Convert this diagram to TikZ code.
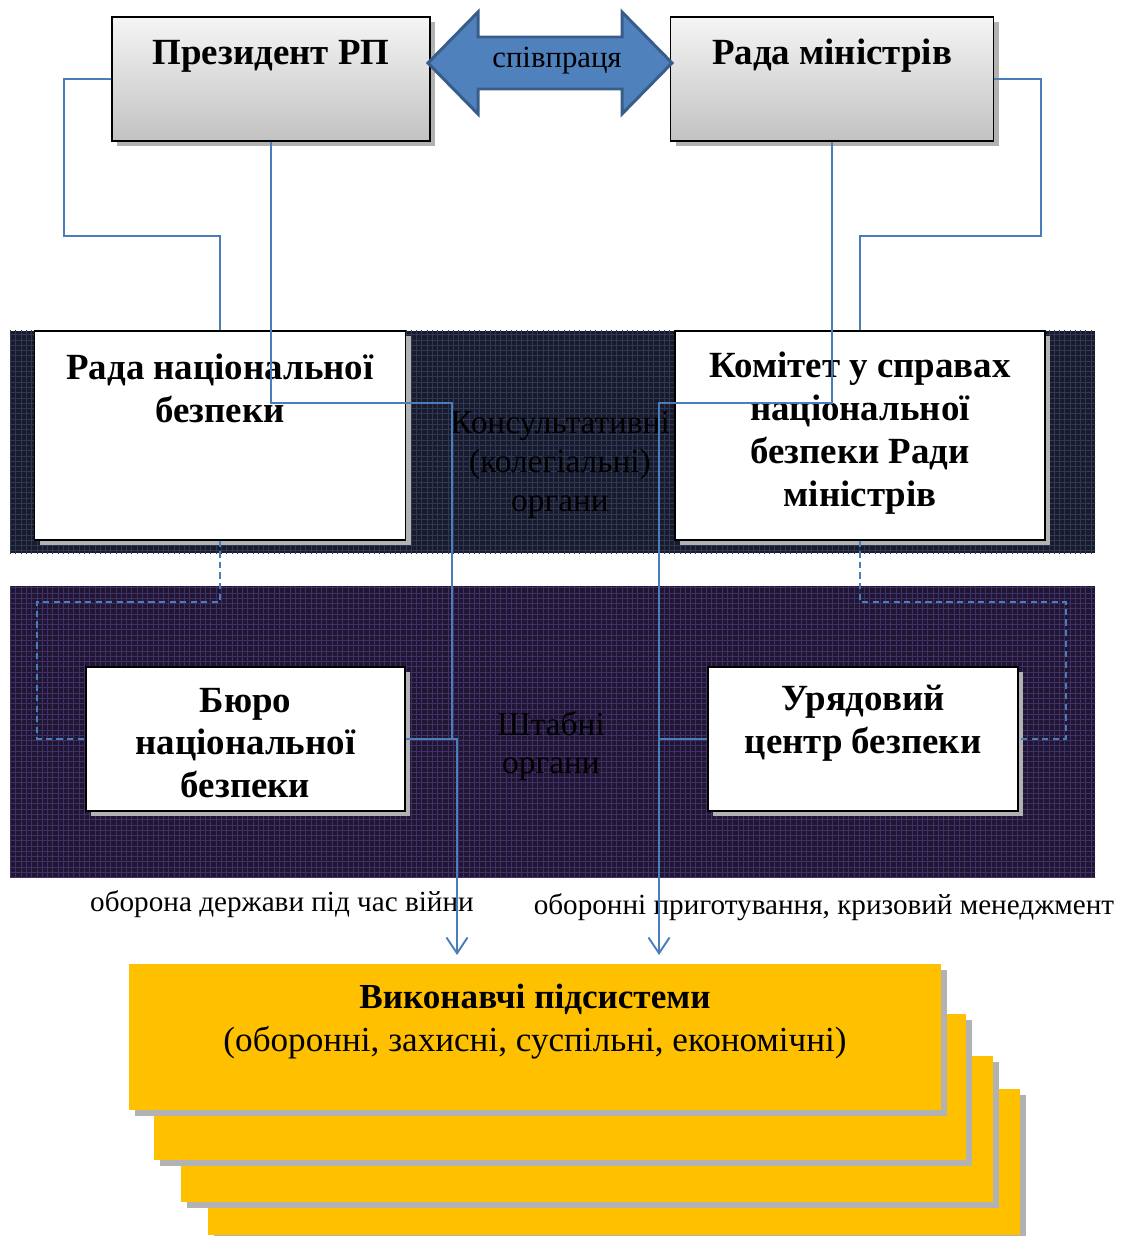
\documentclass[tikz,border=0pt]{standalone}
\usepackage{fontspec}
\setmainfont{Liberation Serif}
\usetikzlibrary{arrows.meta,shadows,patterns}
\definecolor{linkblue}{RGB}{74,126,187}
\definecolor{arrowfill}{RGB}{79,129,189}
\definecolor{arrowedge}{RGB}{56,93,138}
\definecolor{bandone}{RGB}{24,27,44}
\definecolor{bandonegrid}{RGB}{48,56,86}
\definecolor{bandtwo}{RGB}{30,22,50}
\definecolor{bandtwogrid}{RGB}{64,48,102}
\definecolor{subsys}{RGB}{255,192,0}
\tikzset{
  box/.style={draw=black,line width=1pt,fill=white,inner sep=0pt,
    general shadow={fill=gray!60,shadow xshift=3pt,shadow yshift=-3pt}},
  headbox/.style={box,top color=gray!8,bottom color=gray!48},
  subbox/.style={fill=subsys,inner sep=0pt,minimum width=16.24cm,minimum height=2.92cm,
    general shadow={fill=gray!60,shadow xshift=3.4pt,shadow yshift=-3.4pt}},
  title/.style={font=\fontsize{21}{24.4}\selectfont\bfseries,align=center,inner sep=0pt},
  bandtext/.style={font=\fontsize{19}{22}\selectfont,align=center,text=black,inner sep=0pt},
  flowtext/.style={font=\fontsize{16.6}{19}\selectfont,inner sep=0pt},
  link/.style={draw=linkblue,line width=1.1pt},
  tolink/.style={link,-{Straight Barb[length=9pt,width=12pt]}},
  weaklink/.style={link,dash pattern=on 3.5pt off 2.5pt}
}
\begin{document}
\begin{tikzpicture}[x=0.02cm,y=-0.02cm]
\useasboundingbox (0,0) rectangle (1121,1236);
% bands
\fill[bandone] (10,331) rectangle (1095,553);
\fill[pattern=grid,pattern color=bandonegrid] (10,331) rectangle (1095,553);
\fill[bandtwo] (10,586) rectangle (1095,877);
\fill[pattern=grid,pattern color=bandtwogrid] (10,586) rectangle (1095,877);
\node[bandtext] (consult) at (560,465) {Консультативні\\(колегіальні)\\органи};
\node[bandtext] (staff) at (551,746) {Штабні\\органи};
% top level
\node[headbox,minimum width=6.36cm,minimum height=2.48cm] (pres) at (271,79) {};
\node[headbox,minimum width=6.46cm,minimum height=2.48cm] (rm) at (832,79) {};
\node[title] (presT) at (271,56) {Президент РП};
\node[title] (rmT) at (832,56) {Рада міністрів};
\draw[fill=arrowfill,draw=arrowedge,line width=1.7pt,line join=miter]
  (428,63) -- (478,12) -- (478,37) -- (622,37) -- (622,12) -- (672,63)
  -- (622,114) -- (622,89) -- (478,89) -- (478,114) -- cycle;
\node[font=\fontsize{17.5}{20}\selectfont,inner sep=0pt] (coop) at (557,61) {співпраця};
% councils
\node[box,minimum width=7.42cm,minimum height=4.18cm] (rnb) at (220,435.5) {};
\node[box,minimum width=7.4cm,minimum height=4.18cm] (kom) at (860,435.5) {};
\node[title] (rnbT) at (220,388) {Рада національної\\безпеки};
\node[title] (komT) at (860,433) {Комітет у справах\\національної\\безпеки Ради\\міністрів};
% staff
\node[box,minimum width=6.38cm,minimum height=2.88cm] (biuro) at (245.5,739) {};
\node[box,minimum width=6.2cm,minimum height=2.88cm] (ur) at (863,739) {};
\node[title] (biuroT) at (245.5,743) {Бюро\\національної\\безпеки};
\node[title] (urT) at (863,723) {Урядовий\\центр безпеки};
% executive subsystems
\node[subbox] (sub4) at (614,1162) {};
\node[subbox] (sub3) at (587,1129) {};
\node[subbox] (sub2) at (560,1087) {};
\node[subbox] (sub1) at (535,1037) {};
\node[font=\fontsize{20}{24.4}\selectfont,align=center,inner sep=0pt] (sub1T) at (535,1022)
  {\textbf{Виконавчі підсистеми}\\(оборонні, захисні, суспільні, економічні)};
% labels
\node[flowtext] (warT) at (282,904) {оборона держави під час війни};
\node[flowtext] (prepT) at (824,907) {оборонні приготування, кризовий менеджмент};
\coordinate (tipL) at (457,955);
\coordinate (tipR) at (659,955);
% links
\draw[link] (pres.west) -| (64,236) -| (rnb.north);
\draw[link] (rm.east) -| (1041,236) -| (kom.north);
\draw[link] (pres.south) |- (452,403) |- (biuro.east);
\draw[link] (rm.south) |- (659,403) |- (ur.west);
\draw[tolink] (biuro.east) -| (tipL);
\draw[tolink] (ur.west) -| (tipR);
\draw[weaklink] (rnb.south) |- (37,602) |- (biuro.west);
\draw[weaklink] (kom.south) |- (1066,602) |- (ur.east);
\end{tikzpicture}
\end{document}
